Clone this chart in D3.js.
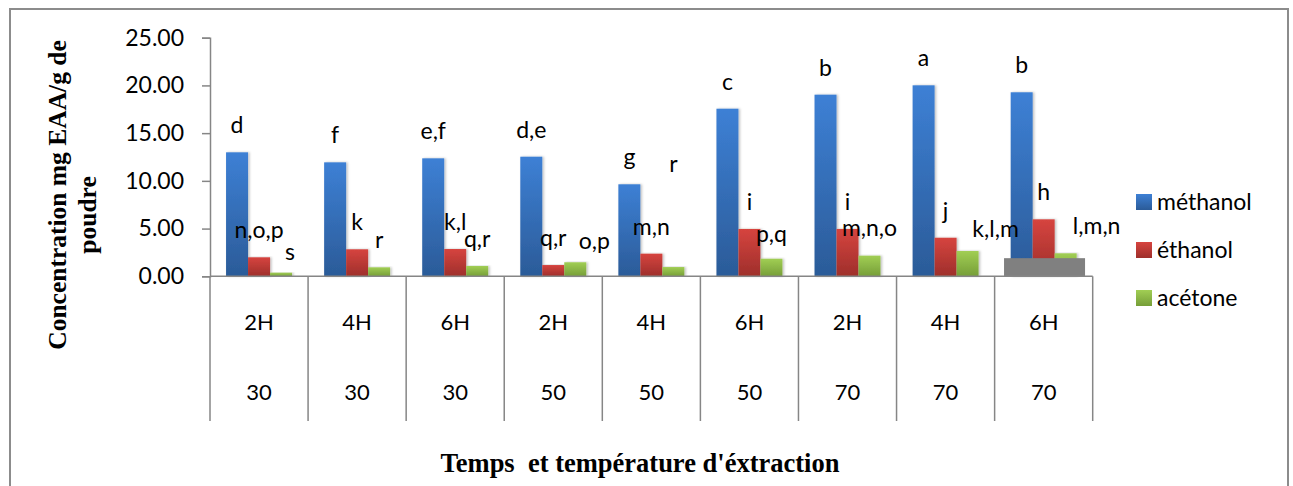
<!DOCTYPE html>
<html>
<head>
<meta charset="utf-8">
<script src="https://cdn.jsdelivr.net/npm/d3@7"></script>
<style>
  body { margin: 0; background: #fff; }
  svg { display: block; }
</style>
</head>
<body>
<svg id="chart" width="1293" height="486"></svg>
<script>
// ---- data ----
const durations = ["2H", "4H", "6H", "2H", "4H", "6H", "2H", "4H", "6H"];
const temperatures = ["30", "30", "30", "50", "50", "50", "70", "70", "70"];
const seriesNames = ["méthanol", "éthanol", "acétone"];
const methanol = [12.99, 11.94, 12.36, 12.53, 9.64, 17.56, 19.03, 20.01, 19.28];
const ethanol = [1.99, 2.83, 2.86, 1.18, 2.37, 4.96, 4.96, 4.04, 5.97];
const acetone = [0.38, 0.94, 1.08, 1.47, 0.97, 1.84, 2.16, 2.65, 2.41];
const methanolGroups = ["d", "f", "e,f", "d,e", "g", "c", "b", "a", "b"];
const ethanolGroups = ["n,o,p", "k", "k,l", "q,r", "m,n", "i", "i", "j", "h"];
const acetoneGroups = ["s", "r", "q,r", "o,p", "r", "p,q", "m,n,o", "k,l,m", "l,m,n"];
const yTicks = [0, 5, 10, 15, 20, 25];
// grey block sitting at the foot of the last group (height in axis units)
const baseBlockValue = 1.9;

// ---- layout ----
const W = 1293, H = 486;
const plot = { left: 210, right: 1092.7, top: 37.7, bottom: 276.3 };
const colors = [
  { top: "#3d80d5", bottom: "#2b5b98" },
  { top: "#d6443f", bottom: "#9e2f2b" },
  { top: "#a1ce54", bottom: "#769e38" }
];
// manual label shifts [dx, dy] in px for the acétone letters
const acetoneShift = [[9, 6], [0, 0], [0, 0], [19, 6], [0, -76], [0, 2], [0, -1], [28, 5], [31, 0]];
const labelFont = "Lato, 'Open Sans', sans-serif";
const titleFont = "'Liberation Serif', 'Times New Roman', serif";

const svg = d3.select("#chart");

// gradients
const defs = svg.append("defs");
colors.forEach((c, i) => {
  const g = defs.append("linearGradient").attr("id", "grad" + i)
    .attr("x1", 0).attr("y1", 0).attr("x2", 0).attr("y2", 1);
  g.append("stop").attr("offset", "0%").attr("stop-color", c.top);
  g.append("stop").attr("offset", "100%").attr("stop-color", c.bottom);
});
const sh = defs.append("filter").attr("id", "shadow")
  .attr("x", "-20%").attr("y", "-5%").attr("width", "150%").attr("height", "110%");
sh.append("feDropShadow").attr("dx", 1.5).attr("dy", 0).attr("stdDeviation", 1)
  .attr("flood-color", "#000").attr("flood-opacity", 0.25);

// outer frame
svg.append("rect").attr("x", 10).attr("y", 9).attr("width", 1278).attr("height", 490)
  .attr("fill", "none").attr("stroke", "#8c8c8c").attr("stroke-width", 2);

// scales
const idx = d3.range(durations.length);
const x0 = d3.scaleBand().domain(idx).range([plot.left, plot.right]).paddingInner(0).paddingOuter(0);
const x1 = d3.scaleBand().domain([0, 1, 2]).range([0, x0.bandwidth()]).paddingInner(0).paddingOuter(0.73);
const y = d3.scaleLinear().domain([0, 25]).range([plot.bottom, plot.top]);

// y axis
const yAxis = svg.append("g").attr("transform", `translate(${plot.left},0)`)
  .call(d3.axisLeft(y).tickValues(yTicks).tickFormat(d3.format(".2f")).tickSize(8).tickPadding(18));
yAxis.select(".domain").attr("stroke", "#868686").attr("stroke-width", 1.5);
yAxis.selectAll(".tick line").attr("stroke", "#868686").attr("stroke-width", 1.5);
yAxis.selectAll(".tick text").attr("font-family", labelFont).attr("font-size", 23).attr("fill", "#000");

// bars
const series = [methanol, ethanol, acetone];
const groupsText = [methanolGroups, ethanolGroups, acetoneGroups];
const barsG = svg.append("g");
series.forEach((vals, s) => {
  barsG.selectAll(null).data(vals).enter().append("rect")
    .attr("x", (d, i) => x0(i) + x1(s))
    .attr("y", d => y(d))
    .attr("width", x1.bandwidth())
    .attr("height", d => y(0) - y(d))
    .attr("fill", `url(#grad${s})`)
    .attr("filter", "url(#shadow)");
});

// grey block at the base of the last group
const lastI = idx[idx.length - 1];
svg.append("rect")
  .attr("x", x0(lastI) + x0.bandwidth() * 0.096)
  .attr("y", y(baseBlockValue))
  .attr("width", x0.bandwidth() * 0.826)
  .attr("height", y(0) - y(baseBlockValue))
  .attr("fill", "#808080");

// category axis: baseline and separators
const axisG = svg.append("g").attr("stroke", "#868686").attr("stroke-width", 1.5);
axisG.append("line").attr("x1", plot.left).attr("x2", plot.right)
  .attr("y1", y(0)).attr("y2", y(0));
const bounds = idx.map(i => x0(i)).concat([plot.right]);
axisG.selectAll(null).data(bounds).enter().append("line")
  .attr("x1", d => d).attr("x2", d => d)
  .attr("y1", y(0)).attr("y2", 421);

// category labels
const catG = svg.append("g").attr("font-family", labelFont).attr("font-size", 22)
  .attr("text-anchor", "middle").attr("fill", "#000");
catG.selectAll(null).data(durations).enter().append("text")
  .attr("x", (d, i) => x0(i) + x0.bandwidth() / 2).attr("y", 330).text(d => d);
catG.selectAll(null).data(temperatures).enter().append("text")
  .attr("x", (d, i) => x0(i) + x0.bandwidth() / 2).attr("y", 400).text(d => d);

// significance letters
const lblG = svg.append("g").attr("font-family", labelFont).attr("font-size", 23)
  .attr("text-anchor", "middle").attr("fill", "#000");
series.forEach((vals, s) => {
  lblG.selectAll(null).data(vals).enter().append("text")
    .attr("x", (d, i) => x0(i) + x1(s) + x1.bandwidth() / 2 + (s === 2 ? acetoneShift[i][0] : 0))
    .attr("y", (d, i) => y(d) - 19 + (s === 2 ? acetoneShift[i][1] : 0))
    .text((d, i) => groupsText[s][i]);
});

// legend
const legG = svg.append("g");
seriesNames.forEach((name, s) => {
  const cy = 202 + s * 48;
  legG.append("rect").attr("x", 1136).attr("y", cy - 8).attr("width", 16).attr("height", 16)
    .attr("fill", `url(#grad${s})`);
  legG.append("text").attr("x", 1157).attr("y", cy + 8)
    .attr("font-family", labelFont).attr("font-size", 23).attr("fill", "#000").text(name);
});

// axis titles
const yTitle = svg.append("g").attr("font-family", titleFont).attr("font-weight", "bold")
  .attr("font-size", 25.5).attr("text-anchor", "middle").attr("fill", "#000");
yTitle.append("text").attr("transform", "translate(66,195) rotate(-90)").text("Concentration mg EAA/g de");
yTitle.append("text").attr("transform", "translate(96,215) rotate(-90)").text("poudre");

svg.append("text").attr("x", 640).attr("y", 472)
  .attr("font-family", titleFont).attr("font-weight", "bold").attr("font-size", 26.5)
  .attr("text-anchor", "middle").attr("fill", "#000")
  .attr("xml:space", "preserve").style("white-space", "pre")
  .text("Temps  et température d'éxtraction");
</script>
</body>
</html>
